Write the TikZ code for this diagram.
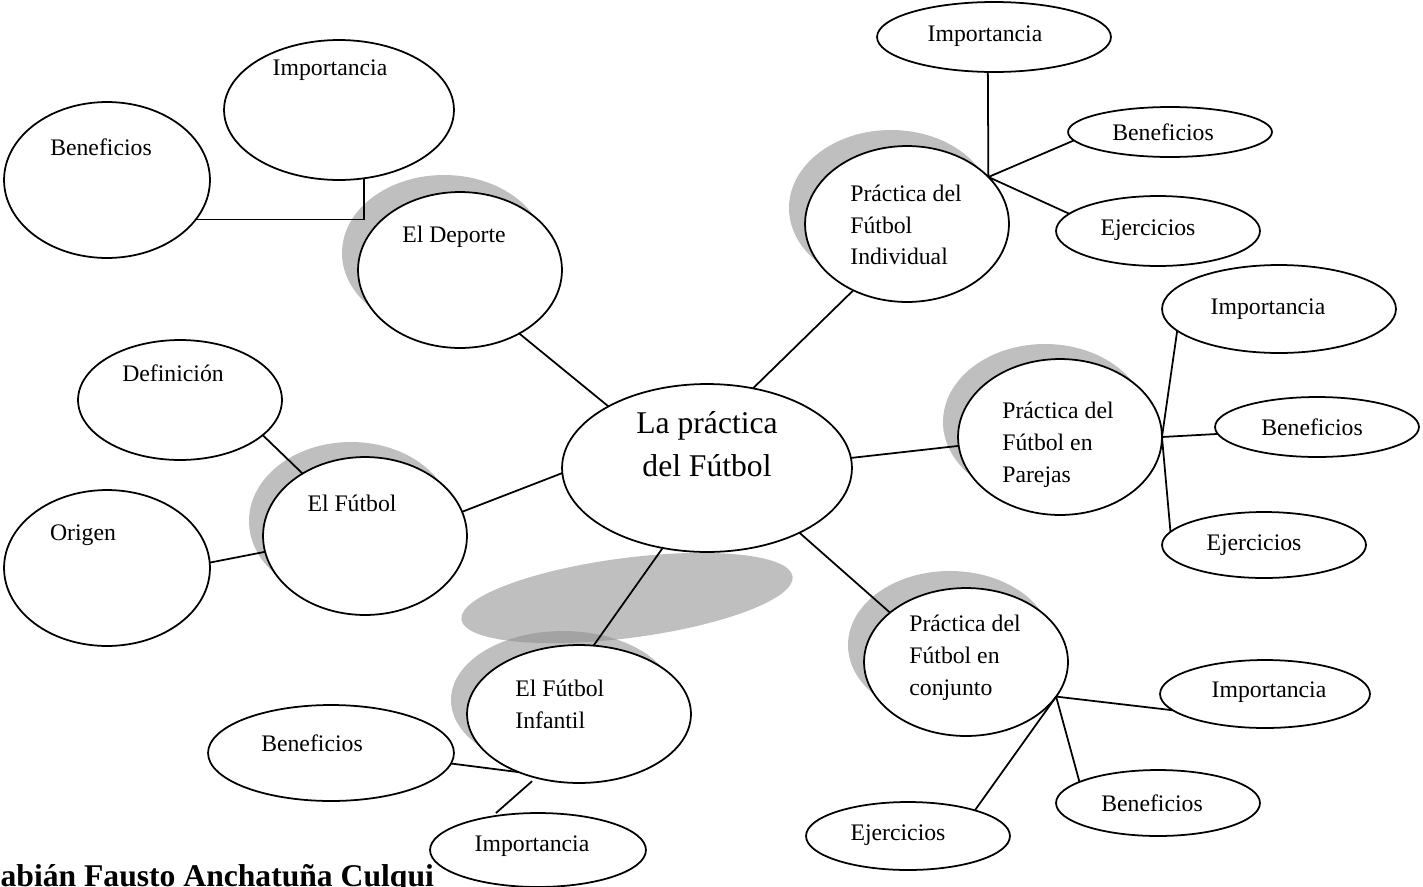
\documentclass[tikz,border=0pt]{standalone}
\usepackage{fontspec}
\setmainfont{Liberation Serif}
\usetikzlibrary{shapes.geometric}

\def\infshadow{(563,700) ellipse [x radius=112, y radius=69]}
\def\flatshadow{(627,598) ellipse [x radius=167, y radius=40]}
\colorlet{bubble edge}{black}
\colorlet{bubble back}{black!25}
\colorlet{bubble overlap}{black!36}
\tikzset{bub/.style 2 args={ellipse, draw=bubble edge, fill=white, line width=1pt,
      inner sep=0pt, outer sep=0pt, minimum width=#1*0.04cm, minimum height=#2*0.04cm},
    txt/.style={font=\fontsize{13.5}{18.1}\selectfont, inner sep=0pt},
    multi/.style={txt, align=left, anchor=west},
    link/.style={line width=1pt},
    backdrop/.style={fill=bubble back}}

\begin{document}
\begin{tikzpicture}[x=0.02cm, y=-0.02cm]
  \useasboundingbox (0,0) rectangle (1423,886);
  % shadows
  \fill[backdrop] (444,253) ellipse [x radius=102, y radius=78];
  \fill[backdrop] (351,521) ellipse [x radius=102, y radius=79];
  \fill[backdrop] \infshadow;
  \fill[backdrop] (891,208) ellipse [x radius=102, y radius=78];
  \fill[backdrop] (1045,422) ellipse [x radius=102, y radius=78];
  \fill[backdrop] (950,645) ellipse [x radius=102, y radius=74];
  \fill[backdrop, rotate around={7.4:(627,598)}] \flatshadow;
  \begin{scope}
    \clip \infshadow;
    \fill[bubble overlap, rotate around={7.4:(627,598)}] \flatshadow;
  \end{scope}

  \node[bub={145}{84}] (cen) at (707,468) {};
  \node[txt, font=\fontsize{18}{24.4}\selectfont, align=center] (cen-t) at (707,444) {La práctica\\del Fútbol};

  \node[bub={102}{78}] (dep) at (460,270) {};
  \node[txt] (dep-t) at (454,237) {El Deporte};
  \node[bub={115}{70}] (depimp) at (339,110) {};
  \node[txt] (depimp-t) at (330,70) {Importancia};
  \node[bub={103}{78}] (depben) at (107,180) {};
  \node[txt] (depben-t) at (101,147) {Beneficios};

  \node[bub={102}{79}] (fut) at (365,536) {};
  \node[txt] (fut-t) at (352,503) {El Fútbol};
  \node[bub={102}{60}] (futdef) at (180,400) {};
  \node[txt] (futdef-t) at (173,373) {Definición};
  \node[bub={103}{78}] (futori) at (107,568) {};
  \node[txt] (futori-t) at (83,535) {Origen};

  \node[bub={112}{69}] (inf) at (579,714) {};
  \node[multi] (inf-t) at (515,704) {El Fútbol\\Infantil};
  \node[bub={123}{48}] (infben) at (331,753) {};
  \node[txt] (infben-t) at (312,743) {Beneficios};
  \node[bub={108}{37}] (infimp) at (538,850) {};
  \node[txt] (infimp-t) at (532,846) {Importancia};

  \node[bub={102}{78}] (ind) at (907,224) {};
  \node[multi] (ind-t) at (850,225) {Práctica del\\Fútbol\\Individual};
  \node[bub={117}{35}] (indimp) at (994,37) {};
  \node[txt] (indimp-t) at (985,36) {Importancia};
  \node[bub={102}{25}] (indben) at (1170,132) {};
  \node[txt] (indben-t) at (1163,132) {Beneficios};
  \node[bub={102}{35}] (indeje) at (1158,231) {};
  \node[txt] (indeje-t) at (1148,230) {Ejercicios};

  \node[bub={102}{78}] (par) at (1060,437) {};
  \node[multi] (par-t) at (1002,445) {Práctica del\\Fútbol en\\Parejas};
  \node[bub={117}{44}] (parimp) at (1279,309) {};
  \node[txt] (parimp-t) at (1268,309) {Importancia};
  \node[bub={102}{30}] (parben) at (1317,427) {};
  \node[txt] (parben-t) at (1312,427) {Beneficios};
  \node[bub={102}{33}] (pareje) at (1264,545) {};
  \node[txt] (pareje-t) at (1254,545) {Ejercicios};

  \node[bub={102}{74}] (conj) at (966,662) {};
  \node[multi] (conj-t) at (909,658) {Práctica del\\Fútbol en\\conjunto};
  \node[bub={105}{34}] (conimp) at (1265,694) {};
  \node[txt] (conimp-t) at (1269,692) {Importancia};
  \node[bub={102}{33}] (conben) at (1158,803) {};
  \node[txt] (conben-t) at (1152,803) {Beneficios};
  \node[bub={102}{34}] (coneje) at (908,836) {};
  \node[txt] (coneje-t) at (898,835) {Ejercicios};

  % connectors
  \draw[link] (depben.-24) -| (depimp.-70);
  \draw[link] (dep.-47) -- (cen.148);
  \draw[link] (futdef.-23) -- (fut.135);
  \draw[link] (futori.3) -- (fut.189);
  \draw[link] (fut.14) -- (cen.182);
  \draw[link] (cen.241) -- (inf.78);
  \draw[link] (infben.-5) -- (inf.224);
  \draw[link, shorten <=3pt, shorten >=3pt] (infimp.144) -- (inf.236);

  \draw[link] (cen.60) -- (ind.231);
  \coordinate (ind-j) at (ind.30);
  \draw[link] (ind-j) -- (indimp.260);
  \draw[link] (ind-j) -- (indben.185);
  \draw[link] (ind-j) -- (indeje.169);

  \draw[link] (cen.4) -- (par.185);
  \draw[link] (par.east) -- (parimp.192);
  \draw[link] (par.east) -- (parben.184);
  \draw[link] (par.east) -- (pareje.172);

  \draw[link] (cen.-35) -- (conj.147);
  \coordinate (conj-j) at (conj.-21);
  \draw[link] (conj-j) -- (conimp.190);
  \draw[link] (conj-j) -- (conben.165);
  \draw[link] (conj-j) -- (coneje.21);

  \node[anchor=base west, inner sep=0pt, font=\bfseries\fontsize{18}{20}\selectfont] (author) at (-19,886) {Fabián Fausto Anchatuña Culqui};
\end{tikzpicture}
\end{document}
